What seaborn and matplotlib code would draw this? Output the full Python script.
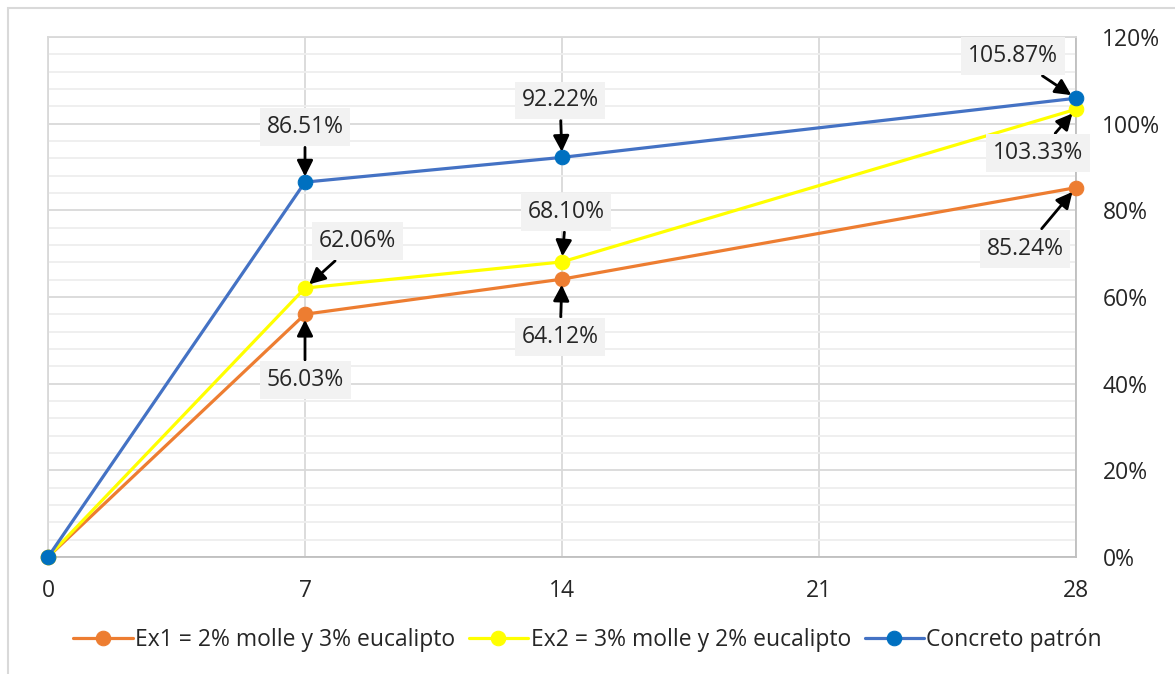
import matplotlib
matplotlib.use("Agg")
import matplotlib.pyplot as plt
from matplotlib.patches import Rectangle
from matplotlib.ticker import MultipleLocator, PercentFormatter
import seaborn as sns
import pandas as pd

# Curing age (days) and relative strength (%)
dias = [0, 7, 14, 28]
ex1 = [0.0, 56.03, 64.12, 85.24]
ex2 = [0.0, 62.06, 68.10, 103.33]
patron = [0.0, 86.51, 92.22, 105.87]

series_names = ["Ex1 = 2% molle y 3% eucalipto",
                "Ex2 = 3% molle y 2% eucalipto",
                "Concreto patrón"]
x_ticks = [0, 7, 14, 21, 28]
y_ticks = [0, 20, 40, 60, 80, 100, 120]

sns.set_theme(style="white")
plt.rcParams["font.family"] = ["Open Sans", "DejaVu Sans"]

FS = 16.5
fig = plt.figure(figsize=(11.75, 6.74), dpi=100)
ax = fig.add_axes([48 / 1175, 1 - 557 / 674, 1028 / 1175, 520 / 674])

# outer chart frame
fig.patches.append(Rectangle((8 / 1175, -0.05), 1.2, 1 - 8 / 674 + 0.05,
                             transform=fig.transFigure, fill=False,
                             edgecolor="#d9d9d9", linewidth=1.5, zorder=0))

styles = [
    dict(color="#ED7D31", markerfacecolor="#ED7D31", markeredgecolor="#ED7D31"),
    dict(color="#FFFF00", markerfacecolor="#FFFF00", markeredgecolor="#FFFF00"),
    dict(color="#4472C4", markerfacecolor="#0070C0", markeredgecolor="#0070C0"),
]
for name, vals, st in zip(series_names, [ex1, ex2, patron], styles):
    df = pd.DataFrame({"dias": dias, "valor": vals})
    sns.lineplot(data=df, x="dias", y="valor", ax=ax, marker="o",
                 markersize=10.5, linewidth=2.3, label=name, zorder=3,
                 clip_on=False, **st)

ax.set_xlim(0, 28)
ax.set_ylim(0, 120)
ax.set_xticks(x_ticks)
ax.set_yticks(y_ticks)
ax.yaxis.set_minor_locator(MultipleLocator(4))
ax.yaxis.set_major_formatter(PercentFormatter(decimals=0))
ax.yaxis.tick_right()
ax.tick_params(axis="both", which="both", length=0, labelsize=FS,
               labelcolor="#262626")
ax.tick_params(axis="x", pad=16)
ax.tick_params(axis="y", pad=19)
ax.set_xlabel("")
ax.set_ylabel("")

ax.grid(True, which="major", color="#d9d9d9", linewidth=1.3)
ax.grid(True, which="minor", axis="y", color="#eeeeee", linewidth=1.3)
ax.set_axisbelow(True)
for side in ["left", "top"]:
    ax.spines[side].set_color("#d9d9d9")
    ax.spines[side].set_linewidth(1.3)
for side in ["bottom", "right"]:
    ax.spines[side].set_color("#bfbfbf")
    ax.spines[side].set_linewidth(1.3)

# data labels with arrows (offsets in pixels)
labels = [
    (7, patron[1], (0, 55)),
    (14, patron[2], (-2, 57)),
    (28, patron[3], (-63, 42)),
    (28, ex2[3], (-38, -44)),
    (28, ex1[3], (-51, -61)),
    (7, ex2[1], (52, 47)),
    (14, ex2[2], (4, 50)),
    (14, ex1[2], (-2, -58)),
    (7, ex1[1], (0, -66)),
]
for x, y, off in labels:
    ax.annotate(f"{y:.2f}%", xy=(x, y), xytext=off, textcoords="offset pixels",
                ha="center", va="center", fontsize=FS, color="#262626",
                bbox=dict(boxstyle="square,pad=0.3", fc="#f2f2f2", ec="none"),
                arrowprops=dict(arrowstyle="-|>", color="black", lw=2.0,
                                mutation_scale=24, shrinkA=1, shrinkB=4),
                zorder=5, annotation_clip=False)

leg = ax.legend(loc="center", bbox_to_anchor=(0.5, 0.05),
                bbox_transform=fig.transFigure, ncol=3, frameon=False,
                fontsize=FS, handlelength=2.6, columnspacing=0.6,
                handletextpad=0.1)
for t in leg.get_texts():
    t.set_color("#262626")

fig.savefig("out.png", dpi=100)
